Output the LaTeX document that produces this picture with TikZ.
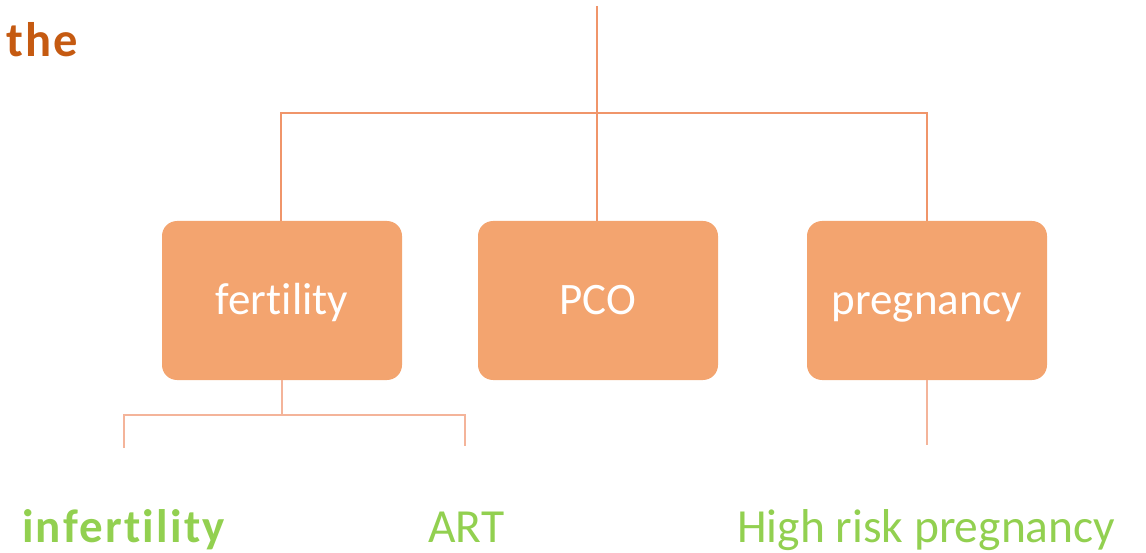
\documentclass[tikz,border=0pt]{standalone}
\usepackage{fontspec}
\setmainfont{Carlito}[Ligatures=NoCommon]
\newfontfamily\widebold{Carlito}[Ligatures=NoCommon, BoldFont={Carlito Bold}, LetterSpace=4.8]
\definecolor{boxfill}{HTML}{F3A46F}
\definecolor{topline}{HTML}{F0956A}
\definecolor{lowline}{HTML}{F4B49A}
\definecolor{titlec}{HTML}{C55A11}
\definecolor{greenc}{HTML}{92D050}
\tikzset{
  catbox/.style={fill=boxfill, rounded corners=15pt, minimum width=240pt, minimum height=159pt, inner sep=0pt},
  boxtext/.style={text=white, inner sep=0pt, anchor=base, font=\fontsize{45}{50}\selectfont},
  topconn/.style={draw=topline, line width=2.5pt},
  lowconn/.style={draw=lowline, line width=2.2pt},
  leaf/.style={text=greenc, inner sep=0pt, anchor=base west, font=\fontsize{47.5}{52}\selectfont},
}
\begin{document}
\begin{tikzpicture}[x=1pt,y=-1pt]
\useasboundingbox (0,0) rectangle (1146,553);
% title fragment
\node[anchor=base west, inner sep=0pt, text=titlec, font=\fontsize{48.5}{52}\widebold\bfseries] (title) at (6,57) {the};
% boxes
\node[catbox] (fert) at (282,300.5) {};
\node[catbox] (pco) at (598,300.5) {};
\node[catbox] (preg) at (927,300.5) {};
\node[boxtext] (fertT) at (282,315) {fertility};
\node[boxtext] (pcoT) at (598,315) {PCO};
\node[boxtext] (pregT) at (927,315) {pregnancy};
% top connectors
\coordinate (root) at (597,6);
\coordinate (hub) at (597,113);
\coordinate (hl) at (281,113);
\coordinate (hr) at (927,113);
\draw[topconn] (root) -- (hub);
\draw[topconn, line join=miter] (hl |- fert.north) -- (hl) -- (hr) -- (hr |- preg.north);
\draw[topconn] (hub) -- (hub |- pco.north);
% lower connectors
\coordinate (fh) at (282,415);
\coordinate (fl) at (124,415);
\coordinate (fr) at (465,415);
\coordinate (fle) at (124,448);
\coordinate (fre) at (465,446);
\coordinate (pe) at (927,445);
\draw[lowconn] (fert.south) -- (fh);
\draw[lowconn, line join=miter] (fle) -- (fl) -- (fr) -- (fre);
\draw[lowconn] (preg.south) -- (pe);
% leaves
\node[leaf, font=\fontsize{47}{52}\widebold\bfseries] (infert) at (22,542) {infertility};
\node[leaf] (art) at (428,542) {ART};
\node[leaf] (hrp) at (737,542) {High risk pregnancy};
\end{tikzpicture}
\end{document}
